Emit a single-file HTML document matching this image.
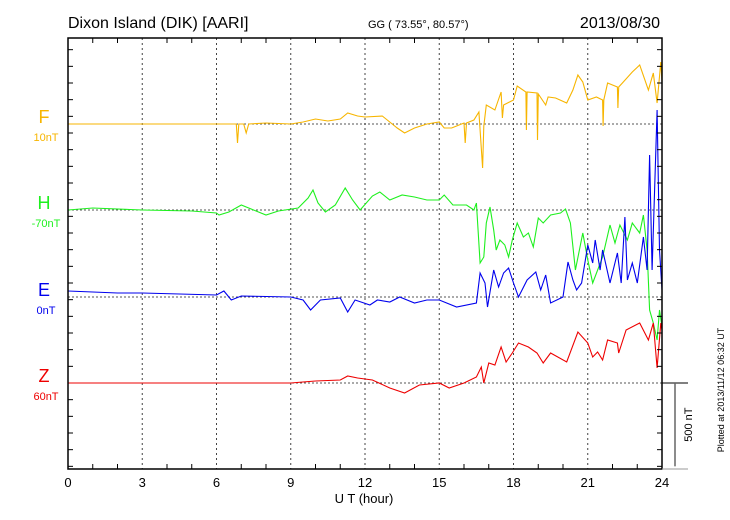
<!DOCTYPE html>
<html><head><meta charset="utf-8"><style>
body{margin:0;background:#fff;}
svg{display:block;font-family:"Liberation Sans",sans-serif;}
</style></head><body>
<svg id="chart" width="730" height="520" viewBox="0 0 730 520">
<text x="68" y="28" font-size="16">Dixon Island (DIK)  [AARI]</text>
<text x="368" y="28" font-size="11">GG ( 73.55°,  80.57°)</text>
<text x="660" y="28" font-size="16" text-anchor="end">2013/08/30</text>
<text x="364" y="503" font-size="13" text-anchor="middle">U T (hour)</text>
<text transform="translate(724,390) rotate(-90)" font-size="9" text-anchor="middle">Plotted at 2013/11/12 06:32 UT</text>
<g id="grid"></g><g id="series"></g><g id="axes"></g><g id="labels"></g>
</svg>
<script>
const hourTicks=[0,3,6,9,12,15,18,21,24];
const compNames=["F","H","E","Z"];
const compOffsets=["10nT","-70nT","0nT","60nT"];
const compColors=["#f7b500","#1ef01e","#0000ee","#ee0000"];
const scaleBarNT=500;
const fT=[0,2,4,6,6.8,6.85,6.9,7.1,7.2,7.3,8,9,9.5,10,10.5,11,11.3,11.7,12,12.7,13.3,13.6,14,14.5,15,15.2,15.5,16,16.05,16.1,16.4,16.6,16.75,16.8,16.9,17.25,17.5,17.55,17.6,18,18.15,18.5,18.52,18.55,18.95,18.97,19,19.3,19.4,19.7,20.15,20.4,20.6,20.8,21,21.35,21.6,21.62,21.65,21.8,22.2,22.22,22.25,22.4,22.8,23.1,23.45,23.65,23.8,23.95,24];
const fV=[0,0,0,0,0,-114,0,0,-54,0,6,0,12,30,18,30,66,48,42,48,-24,-54,-24,0,12,-24,-24,6,-114,6,24,72,-264,-12,114,84,192,36,114,144,228,192,-36,192,186,-96,180,114,162,156,126,204,294,252,144,162,144,-12,144,246,222,96,222,246,312,354,204,306,126,372,252];
const hT=[0,1,3,5,6,6.1,6.5,7,7.5,8,8.5,9.3,9.7,9.9,10.1,10.4,10.8,11.2,11.5,11.8,12.3,12.6,13,13.5,14,14.5,15,15.2,15.55,16.1,16.4,16.5,16.65,16.8,16.9,17.05,17.2,17.3,17.45,17.65,17.8,17.95,18.15,18.4,18.6,18.8,19,19.2,19.5,19.9,20.1,20.3,20.5,20.8,21,21.2,21.6,21.9,22.1,22.3,22.6,22.8,23.1,23.25,23.4,23.5,23.65,23.8,23.9,24];
const hV=[0,12,0,-6,-18,-30,-12,30,0,-30,-6,12,72,120,42,-12,30,132,60,0,84,108,60,90,78,60,60,90,30,30,0,42,-318,-282,-78,18,-120,-240,-180,-210,-282,-180,-78,-162,-138,-222,-48,-78,-30,-18,6,-78,-360,-138,-300,-438,-282,-90,-198,-90,-180,-78,-138,-30,-240,-600,-678,-780,-600,-702];
const eT=[0,1,2,3,6,6.3,6.6,7,9,9.5,9.8,10.2,11,11.3,11.6,12.2,12.5,13,13.4,14,14.5,15,15.7,16.5,16.65,16.85,16.95,17.2,17.4,17.6,17.8,18,18.2,18.55,18.9,19.1,19.3,19.5,20,20.2,20.4,20.55,20.75,21,21.2,21.3,21.5,21.6,21.9,22.2,22.35,22.5,22.6,22.8,23,23.25,23.4,23.5,23.6,23.8,23.9,24];
const eV=[36,30,24,24,12,36,-18,6,0,-18,-78,-18,-6,-90,-18,-48,-18,-30,0,-36,-18,-18,-60,-36,144,84,-60,162,60,144,174,84,0,102,150,42,132,-36,0,210,102,42,84,312,204,342,162,282,84,264,84,480,102,204,84,360,162,852,162,1122,282,42];
const zT=[0,5,9,10,11,11.3,11.7,12.3,13,13.6,14.2,15,15.4,16,16.5,16.7,16.8,17,17.25,17.5,17.7,17.95,18.2,18.6,18.95,19.2,19.5,20.15,20.6,21,21.2,21.4,21.6,21.8,22.2,22.25,22.55,23.1,23.45,23.65,23.8,23.95,24];
const zV=[0,0,0,12,18,42,30,18,-30,-60,-12,0,-30,0,36,96,0,120,108,216,126,180,240,216,180,120,180,126,306,240,156,186,138,258,240,180,318,360,258,360,90,360,318];

const X0=68,X1=662,Y0=38,Y1=469;
const bases=[124,210,297,383];
const pxPerNT=1/6;
const xs=h=>X0+h*(X1-X0)/24;
const ys=(i,v)=>bases[i]-v*pxPerNT;
const NS="http://www.w3.org/2000/svg";
function mk(tag,attrs,parent){const e=document.createElementNS(NS,tag);for(const k in attrs)e.setAttribute(k,attrs[k]);parent.appendChild(e);return e;}
const grid=document.getElementById('grid'),ser=document.getElementById('series'),axes=document.getElementById('axes'),lab=document.getElementById('labels');
hourTicks.slice(1,-1).forEach(h=>{
 const l=mk('line',{x1:xs(h),x2:xs(h),y1:Y0,y2:Y1,stroke:'#444','stroke-width':1,'stroke-dasharray':'2,3'},grid);
 
 
});
bases.forEach((b,i)=>{
 const l=mk('line',{x1:X0,x2:X1,y1:b,y2:b,stroke:'#555','stroke-width':1,'stroke-dasharray':'2,2'},grid);
 
 
});
const data=[[fT,fV],[hT,hV],[eT,eV],[zT,zV]];
data.forEach((d,i)=>{
 const n=Math.min(d[0].length,d[1].length);let pts=[];
 for(let k=0;k<n;k++)pts.push(xs(d[0][k]).toFixed(1)+','+ys(i,d[1][k]).toFixed(1));
 const p=mk('polyline',{points:pts.join(' '),fill:'none',stroke:compColors[i],'stroke-width':1.1},ser);
 
 
 const t=mk('text',{x:44,y:bases[i]-1,'font-size':18,fill:compColors[i],'text-anchor':'middle'},lab);
 t.textContent=compNames[i];
 
 
 const o=mk('text',{x:46,y:bases[i]+17,'font-size':11,fill:compColors[i],'text-anchor':'middle'},lab);
 o.textContent=compOffsets[i];
 
 
});
const fr=mk('rect',{x:X0,y:Y0,width:X1-X0,height:Y1-Y0,fill:'none',stroke:'#000','stroke-width':1.5},axes);


for(let h=0;h<=24;h++){
 const len=h%3===0?0:5;
 if(len){mk('line',{x1:xs(h),x2:xs(h),y1:Y0,y2:Y0+len,stroke:'#000'},axes);mk('line',{x1:xs(h),x2:xs(h),y1:Y1,y2:Y1-len,stroke:'#000'},axes);}
}
const step=100*pxPerNT;
for(let y=bases[3]+step;y<Y1-1;y+=step){mk('line',{x1:X1-5,x2:X1,y1:y,y2:y,stroke:'#000'},axes);mk('line',{x1:X0,x2:X0+5,y1:y,y2:y,stroke:'#000'},axes);}
for(let y=bases[3]-step;y>Y0+1;y-=step){mk('line',{x1:X1-5,x2:X1,y1:y,y2:y,stroke:'#000'},axes);mk('line',{x1:X0,x2:X0+5,y1:y,y2:y,stroke:'#000'},axes);}
hourTicks.forEach(h=>{
 const t=mk('text',{x:xs(h),y:487,'font-size':13,'text-anchor':'middle'},axes);
 t.textContent=h;
 
 
});
const sb=mk('g',{},axes);


mk('line',{x1:X1,x2:X1+26,y1:bases[3],y2:bases[3],stroke:'#000'},sb);
mk('line',{x1:X1+13,x2:X1+13,y1:bases[3],y2:bases[3]+scaleBarNT*pxPerNT,stroke:'#666','stroke-width':1.5},sb);
mk('line',{x1:X1,x2:X1+26,y1:Y1,y2:Y1,stroke:'#999'},sb);
const st=mk('text',{transform:'translate(692,'+(bases[3]+scaleBarNT*pxPerNT/2)+') rotate(-90)','font-size':11,'text-anchor':'middle'},sb);
st.textContent=scaleBarNT+' nT';
</script>
</body></html>
